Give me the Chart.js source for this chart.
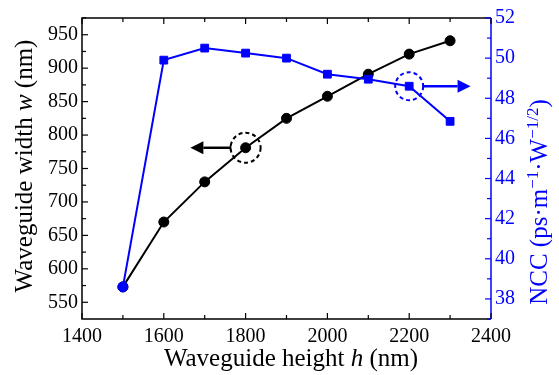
<!DOCTYPE html>
<html><head><meta charset="utf-8">
<script src="https://cdn.jsdelivr.net/npm/chart.js@4"></script>
<style>html,body{margin:0;padding:0;background:#fff;} canvas{display:block;}</style>
</head><body>
<canvas id="c" width="559" height="375"></canvas>
<script>
// ---- data ----
const heights = [1500, 1600, 1700, 1800, 1900, 2000, 2100, 2200, 2300];
const widths  = [573, 670, 730, 781, 825, 858, 891, 921, 941];
const ncc     = [38.6, 49.9, 50.5, 50.25, 50.0, 49.2, 48.95, 48.6, 46.85];
const xTicks   = [1400, 1600, 1800, 2000, 2200, 2400];
const wTicks   = [550, 600, 650, 700, 750, 800, 850, 900, 950];
const nccTicks = [38, 40, 42, 44, 46, 48, 50, 52];
const markW = {x: 1800, y: 781};      // highlighted point on width curve
const markN = {x: 2200, y: 48.6};     // highlighted point on NCC curve
const arrowTipW = 1665, arrowTipN = 2350;

const BLUE = '#0000ff';
const FONT = '"Liberation Serif", "Times New Roman", serif';

function setTicks(arr){ return function(s){ s.ticks = arr.map(v => ({value: v})); }; }
const plain = v => String(v);

const deco = {
  id: 'deco',
  afterDraw(chart){
    const ctx = chart.ctx, a = chart.chartArea;
    const x = chart.scales.x, yl = chart.scales.y, yr = chart.scales.y2;
    const line = (x0,y0,x1,y1) => { ctx.beginPath(); ctx.moveTo(x0,y0); ctx.lineTo(x1,y1); ctx.stroke(); };
    ctx.save();
    // frame
    ctx.lineWidth = 1.5; ctx.strokeStyle = '#000';
    ctx.beginPath(); ctx.moveTo(a.right, a.top); ctx.lineTo(a.left, a.top); ctx.lineTo(a.left, a.bottom); ctx.lineTo(a.right, a.bottom); ctx.stroke();
    ctx.strokeStyle = BLUE; line(a.right, a.top, a.right, a.bottom);
    // x ticks (bottom + top), inward
    ctx.strokeStyle = '#000'; ctx.lineWidth = 1.2;
    for (let v = x.min; v <= x.max + 0.1; v += 100) {
      const px = x.getPixelForValue(v), L = (v % 200 === 0) ? 6 : 4;
      line(px, a.bottom, px, a.bottom - L);
      line(px, a.top, px, a.top + L);
    }
    // left y ticks
    for (let v = 550; v <= yl.max + 0.1; v += 25) {
      const py = yl.getPixelForValue(v), L = (v % 50 === 0) ? 6 : 4;
      line(a.left, py, a.left + L, py);
    }
    // right y ticks (blue)
    ctx.strokeStyle = BLUE;
    for (let v = Math.ceil(yr.min); v <= yr.max + 0.01; v += 1) {
      const py = yr.getPixelForValue(v), L = (v % 2 === 0) ? 6 : 4;
      line(a.right, py, a.right - L, py);
    }
    // annotations
    function dashedCircle(cx, cy, r, color){
      ctx.save(); ctx.setLineDash([4, 3]); ctx.strokeStyle = color; ctx.lineWidth = 2;
      ctx.beginPath(); ctx.arc(cx, cy, r, 0, Math.PI * 2); ctx.stroke(); ctx.restore();
    }
    function arrow(x0, y, x1, color){
      const dir = Math.sign(x1 - x0), head = 13, hw = 6.5;
      ctx.strokeStyle = color; ctx.fillStyle = color; ctx.lineWidth = 2.5;
      line(x0, y, x1 - dir * head, y);
      ctx.beginPath(); ctx.moveTo(x1, y); ctx.lineTo(x1 - dir * head, y - hw); ctx.lineTo(x1 - dir * head, y + hw); ctx.closePath(); ctx.fill();
      ctx.lineWidth = 1.5; line(x0, y - 3, x0, y + 3);
    }
    const r = 15;
    let cx = x.getPixelForValue(markW.x), cy = yl.getPixelForValue(markW.y);
    dashedCircle(cx, cy, r, '#000');
    arrow(cx - r, cy, x.getPixelForValue(arrowTipW), '#000');
    cx = x.getPixelForValue(markN.x); cy = yr.getPixelForValue(markN.y);
    dashedCircle(cx, cy, 14, BLUE);
    arrow(cx + 14, cy, x.getPixelForValue(arrowTipN), BLUE);

    // axis titles
    function rich(parts, tx, ty, rot, color, size, ssize){
      ctx.save(); ctx.translate(tx, ty); ctx.rotate(rot); ctx.fillStyle = color; ctx.textBaseline = 'alphabetic';
      const fontOf = p => (p.i ? 'italic ' : '') + (p.s ? ssize : size) + 'px ' + FONT;
      let total = 0;
      parts.forEach(p => { ctx.font = fontOf(p); p.w = ctx.measureText(p.t).width; total += p.w; });
      let px = -total / 2;
      parts.forEach(p => { ctx.font = fontOf(p); ctx.fillText(p.t, px, p.s ? -1 : 8); px += p.w; });
      ctx.restore();
    }
    rich([{t:'Waveguide height '}, {t:'h', i:true}, {t:' (nm)'}], 291, 358, 0, '#000', 25, 16);
    rich([{t:'Waveguide width '}, {t:'w', i:true}, {t:' (nm)'}], 24, 166, -Math.PI/2, '#000', 25, 16);
    rich([{t:'NCC (ps·m'}, {t:'\u22121', s:true}, {t:'·W'}, {t:'\u22121/2', s:true}, {t:')'}], 539, 202, -Math.PI/2, BLUE, 25, 17);
    ctx.restore();
  }
};

new Chart(document.getElementById('c'), {
  type: 'line',
  data: {
    datasets: [
      {
        label: 'NCC',
        data: heights.map((h, i) => ({x: h, y: ncc[i]})),
        yAxisID: 'y2',
        borderColor: BLUE, backgroundColor: BLUE, borderWidth: 2,
        pointStyle: ['circle', 'rect', 'rect', 'rect', 'rect', 'rect', 'rect', 'rect', 'rect'],
        pointRadius: [5, 5.5, 5.5, 5.5, 5.5, 5.5, 5.5, 5.5, 5.5],
        pointBorderWidth: 1, pointBorderColor: BLUE,
        tension: 0, order: 0
      },
      {
        label: 'w',
        data: heights.map((h, i) => ({x: h, y: widths[i]})),
        yAxisID: 'y',
        borderColor: '#000', backgroundColor: '#000', borderWidth: 2,
        pointStyle: 'circle', pointRadius: 5, pointBorderWidth: 1, pointBorderColor: '#000',
        tension: 0, order: 1
      }
    ]
  },
  options: {
    responsive: false, animation: false, devicePixelRatio: 1,
    layout: {padding: {top: 18, left: 0, right: 0, bottom: 0}},
    plugins: {legend: {display: false}, tooltip: {enabled: false}},
    scales: {
      x: {
        type: 'linear', min: 1400, max: 2400,
        afterBuildTicks: setTicks(xTicks),
        afterFit: s => { s.height = 56; },
        grid: {display: false, drawTicks: false}, border: {display: false},
        ticks: {font: {family: FONT, size: 20}, color: '#000', padding: 6, maxRotation: 0, autoSkip: false, callback: plain}
      },
      y: {
        position: 'left', min: 525, max: 975,
        afterBuildTicks: setTicks(wTicks),
        afterFit: s => { s.width = 82; },
        grid: {display: false, drawTicks: false}, border: {display: false},
        ticks: {font: {family: FONT, size: 20}, color: '#000', padding: 4, autoSkip: false, callback: plain}
      },
      y2: {
        position: 'right', min: 37, max: 52,
        afterBuildTicks: setTicks(nccTicks),
        afterFit: s => { s.width = 68; },
        grid: {display: false, drawTicks: false}, border: {display: false},
        ticks: {font: {family: FONT, size: 20}, color: BLUE, padding: 4, autoSkip: false, callback: plain}
      }
    }
  },
  plugins: [deco]
});
</script>
</body></html>
